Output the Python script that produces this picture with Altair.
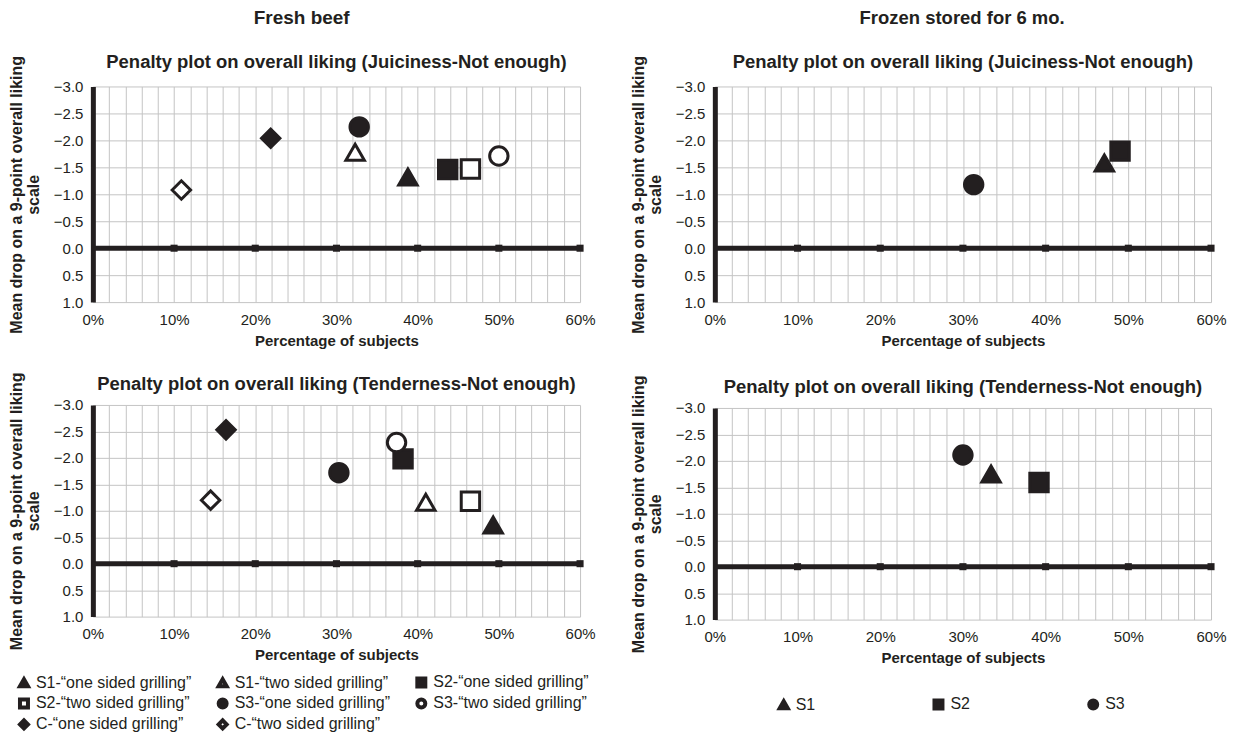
import altair as alt
import pandas as pd

INK = "#231f20"
GRID = "#c4c4c4"
FONT = "Liberation Sans"

# ---------------- data ----------------
fresh_series = [
    "S1-“one sided grilling”", "S1-“two sided grilling”",
    "S2-“one sided grilling”", "S2-“two sided grilling”",
    "S3-“one sided grilling”", "S3-“two sided grilling”",
    "C-“one sided grilling”", "C-“two sided grilling”",
]
fresh_shapes = ["triangle-up", "triangle-up", "square", "square",
                "circle", "circle", "diamond", "diamond"]
fresh_fills = [INK, "white", INK, "white", INK, "white", INK, "white"]

fresh_juic_pct = [38.8, 32.3, 43.7, 46.5, 32.8, 50.0, 21.9, 10.9]
fresh_juic_drop = [-1.32, -1.78, -1.46, -1.47, -2.25, -1.71, -2.04, -1.08]
fresh_tend_pct = [49.3, 41.0, 38.2, 46.5, 30.3, 37.4, 16.4, 14.5]
fresh_tend_drop = [-0.73, -1.16, -1.98, -1.18, -1.72, -2.29, -2.53, -1.20]

frozen_series = ["S1", "S2", "S3"]
frozen_shapes = ["triangle-up", "square", "circle"]
frozen_fills = [INK, INK, INK]
frozen_juic_pct = [47.1, 49.0, 31.3]
frozen_juic_drop = [-1.58, -1.80, -1.18]
frozen_tend_pct = [33.4, 39.2, 30.0]
frozen_tend_drop = [-1.75, -1.59, -2.11]

x_domain = [0, 60]
x_grid = [0, 2, 4, 6, 8, 10, 12, 14, 16, 18, 20, 22, 24, 26, 28, 30,
          32, 34, 36, 38, 40, 42, 44, 46, 48, 50, 52, 54, 56, 58, 60]
zero_ticks = [10, 20, 30, 40, 50, 60]
y_domain = [-3, 1]
y_ticks = [-3.0, -2.5, -2.0, -1.5, -1.0, -0.5, 0.0, 0.5, 1.0]

titles = ["Penalty plot on overall liking (Juiciness-Not enough)",
          "Penalty plot on overall liking (Tenderness-Not enough)"]
y_title = ["Mean drop on a 9-point overall liking", "scale"]
x_title = "Percentage of subjects"


def x_enc():
    return alt.X(
        "pct:Q",
        scale=alt.Scale(domain=x_domain, nice=False, zero=False),
        axis=alt.Axis(values=x_grid,
                      labelExpr="datum.value % 10 == 0 ? datum.value + '%' : ''",
                      grid=True, ticks=False, domain=False, title=x_title,
                      labelPadding=10, titlePadding=6, labelFlush=False,
                      labelOverlap=False, titleFontSize=15),
    )


def y_enc():
    return alt.Y(
        "drop:Q",
        scale=alt.Scale(domain=y_domain, reverse=True, nice=False, zero=False),
        axis=alt.Axis(values=y_ticks, format=".1f", grid=True, ticks=False,
                      domain=True, domainColor=INK, domainWidth=5,
                      title=y_title, titleFontSize=16, titleLineHeight=17,
                      labelPadding=10, titlePadding=12,
                      labelFlush=False, labelOverlap=False),
    )


def panel(series, shapes, fills, pct, drop, title, width, height, legend, title_offset):
    df = pd.DataFrame({"series": series, "pct": pct, "drop": drop})
    zero_df = pd.DataFrame({"pct": [x_domain[0]], "pct_end": [x_domain[1]], "drop": [0]})
    tick_df = pd.DataFrame({"pct": zero_ticks, "drop": [0] * len(zero_ticks)})

    rule = alt.Chart(zero_df).mark_rule(color=INK, strokeWidth=5).encode(
        x=x_enc(), x2="pct_end:Q", y=y_enc())
    sq = alt.Chart(tick_df).mark_square(size=50, color=INK, opacity=1).encode(
        x=x_enc(), y=y_enc())
    pts = alt.Chart(df).mark_point(
        filled=True, size=340, strokeWidth=3, opacity=1, fillOpacity=1
    ).encode(
        x=x_enc(), y=y_enc(),
        shape=alt.Shape("series:N", scale=alt.Scale(domain=series, range=shapes),
                        legend=legend),
        fill=alt.Fill("series:N", scale=alt.Scale(domain=series, range=fills),
                      legend=legend),
        stroke=alt.Stroke("series:N",
                          scale=alt.Scale(domain=series, range=[INK] * len(series)),
                          legend=legend),
    )
    return alt.layer(rule, sq, pts).properties(
        width=width, height=height,
        title=alt.Title(title, fontSize=18.5, fontWeight="bold", anchor="middle",
                        frame="group", offset=title_offset, color=INK),
    )


left_legend = alt.Legend(
    title=None, orient="none", legendX=-77, legendY=270, direction="horizontal",
    columns=3, labelFontSize=16, labelColor=INK, symbolSize=64,
    symbolStrokeWidth=4, columnPadding=19,
    rowPadding=-3, gridAlign="all", labelLimit=300,
)
right_legend = alt.Legend(
    title=None, orient="none", legendX=61, legendY=289, direction="horizontal",
    columns=3, labelFontSize=16, labelColor=INK, symbolSize=64,
    symbolStrokeWidth=4, columnPadding=111,
    rowPadding=-3, gridAlign="all",
)

tl = panel(fresh_series, fresh_shapes, fresh_fills, fresh_juic_pct, fresh_juic_drop,
           titles[0], 488, 216, None, -16)
bl = panel(fresh_series, fresh_shapes, fresh_fills, fresh_tend_pct, fresh_tend_drop,
           titles[1], 488, 212, left_legend, -22)
tr = panel(frozen_series, frozen_shapes, frozen_fills, frozen_juic_pct, frozen_juic_drop,
           titles[0], 497, 216, None, -16)
br = panel(frozen_series, frozen_shapes, frozen_fills, frozen_tend_pct, frozen_tend_drop,
           titles[1], 497, 212, right_legend, -22)

left = alt.vconcat(
    tl, bl, spacing=23,
    title=alt.Title("Fresh beef", fontSize=19, fontWeight="bold", anchor="middle",
                    color=INK, offset=25),
).resolve_scale(shape="independent", fill="independent", stroke="independent")
right = alt.vconcat(
    tr, br, spacing=26,
    title=alt.Title("Frozen stored for 6 mo.", fontSize=18.5, fontWeight="bold",
                    anchor="middle", color=INK, offset=25, dx=34),
).resolve_scale(shape="independent", fill="independent", stroke="independent")

chart = alt.hconcat(left, right, spacing=34).resolve_scale(
    shape="independent", fill="independent", stroke="independent"
).properties(
    padding={"left": 0, "top": 0, "right": 0, "bottom": 0}
).configure(
    font=FONT
).configure_view(
    stroke=None
).configure_axis(
    labelFont=FONT, titleFont=FONT, labelFontSize=15, labelColor=INK,
    titleFontWeight="bold", titleColor=INK,
    gridColor=GRID, gridOpacity=1, gridWidth=1,
).configure_legend(
    labelFont=FONT,
).configure_title(
    font=FONT,
)

chart.save("out.html", embed_options={"renderer": "svg", "actions": False})
